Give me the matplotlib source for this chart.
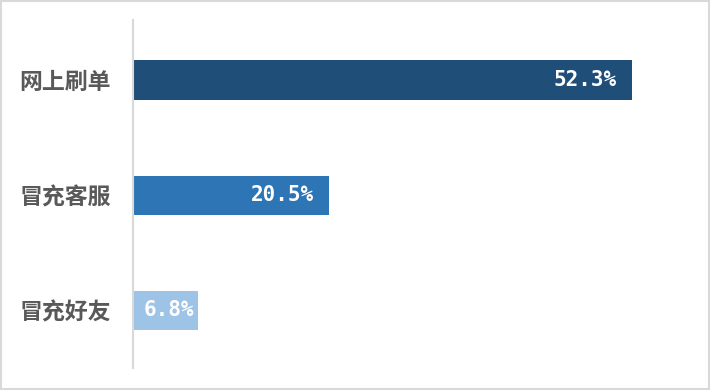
import matplotlib.pyplot as plt
from matplotlib.patches import Rectangle

plt.rcParams['font.family'] = ['Noto Sans CJK SC', 'DejaVu Sans']

categories = ['网上刷单', '冒充客服', '冒充好友']
values = [52.3, 20.5, 6.8]
colors = ['#1F4E79', '#2E75B6', '#9DC3E6']

fig = plt.figure(figsize=(7.1, 3.9), dpi=100)
ax = fig.add_axes([133 / 710, 22 / 390, 557 / 710, 348 / 390])

ypos = list(range(len(categories)))
bars = ax.barh(ypos, values, height=0.34, color=colors)

ax.set_xlim(0, 58.4)
ax.set_ylim(2.5, -0.52)
ax.set_yticks(ypos)
ax.set_yticklabels(categories, fontsize=16.5, color='#595959', fontweight='bold')
ax.set_xticks([])
ax.tick_params(axis='y', length=0, pad=16)

for s in ['top', 'right', 'bottom']:
    ax.spines[s].set_visible(False)
ax.spines['left'].set_color('#D9D9D9')
ax.spines['left'].set_linewidth(1.5)

for b, v in zip(bars, values):
    pad = -15 if v > 10 else -4
    ax.annotate(f'{v}%', xy=(v, b.get_y() + b.get_height() / 2),
                xytext=(pad * 0.72, 0), textcoords='offset points',
                ha='right', va='center', color='white', fontsize=15,
                family='DejaVu Sans Mono', fontweight='bold')

# 外枠
fig.patches.append(Rectangle((0.001, 0.002), 0.997, 0.995, transform=fig.transFigure,
                             fill=False, edgecolor='#D9D9D9', linewidth=1.5))

fig.savefig('out.png', dpi=100)
